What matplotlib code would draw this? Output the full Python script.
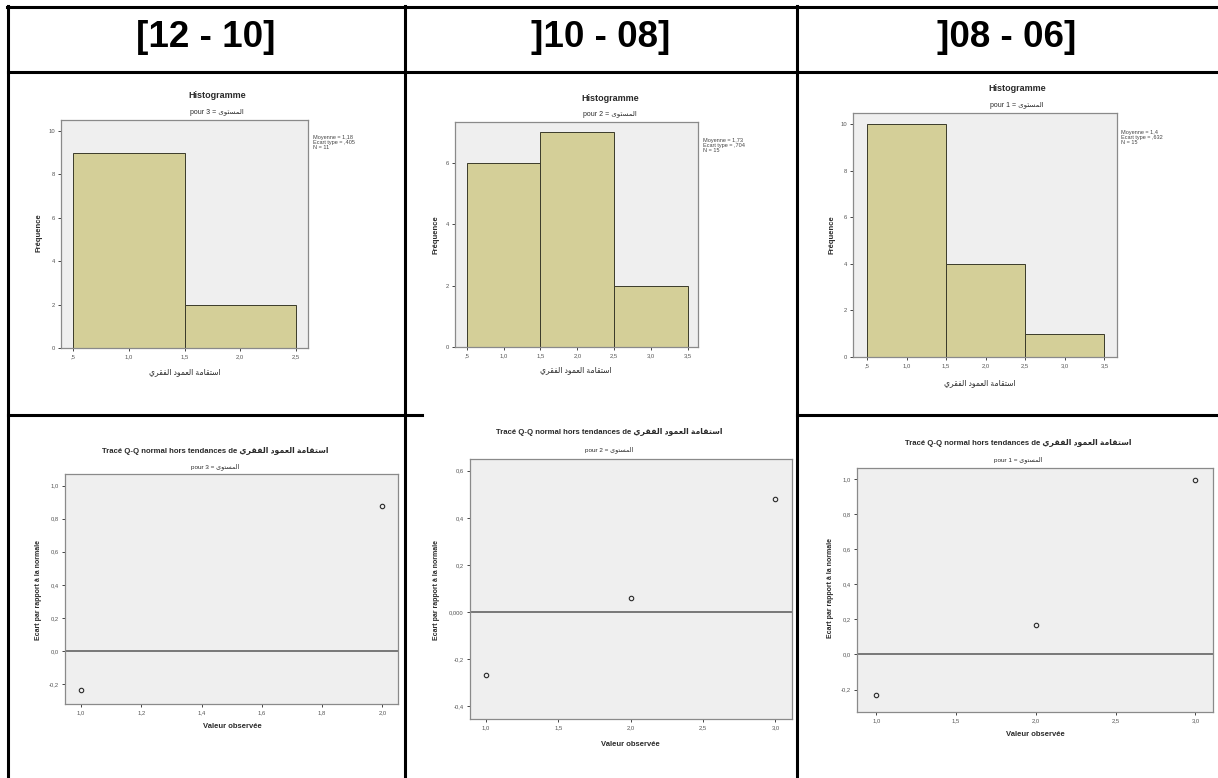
import matplotlib
matplotlib.use("Agg")
import matplotlib.pyplot as plt
from matplotlib.lines import Line2D

# ---------------- data ----------------
headers = ["[12 - 10]", "]10 - 08]", "]08 - 06]"]
group_values = [3, 2, 1]

hist1_values = [1, 2]
hist1_counts = [9, 2]
hist2_values = [1, 2, 3]
hist2_counts = [6, 7, 2]
hist3_values = [1, 2, 3]
hist3_counts = [10, 4, 1]

hist_means = ["1,18", "1,73", "1,4"]
hist_sds = [",405", ",704", ",632"]
hist_ns = ["11", "15", "15"]

hist1_xticks = [0.5, 1.0, 1.5, 2.0, 2.5]
hist1_xticklabels = [",5", "1,0", "1,5", "2,0", "2,5"]
hist23_xticks = [0.5, 1.0, 1.5, 2.0, 2.5, 3.0, 3.5]
hist23_xticklabels = [",5", "1,0", "1,5", "2,0", "2,5", "3,0", "3,5"]
hist1_yticks = [0, 2, 4, 6, 8, 10]
hist2_yticks = [0, 2, 4, 6]
hist3_yticks = [0, 2, 4, 6, 8, 10]

qq1_x = [1.0, 2.0]
qq1_y = [-0.236, 0.877]
qq2_x = [1.0, 2.0, 3.0]
qq2_y = [-0.266, 0.059, 0.482]
qq3_x = [1.0, 2.0, 3.0]
qq3_y = [-0.232, 0.168, 0.996]

qq1_xticks = [1.0, 1.2, 1.4, 1.6, 1.8, 2.0]
qq1_xticklabels = ["1,0", "1,2", "1,4", "1,6", "1,8", "2,0"]
qq23_xticks = [1.0, 1.5, 2.0, 2.5, 3.0]
qq23_xticklabels = ["1,0", "1,5", "2,0", "2,5", "3,0"]
qq1_yticks = [-0.2, 0.0, 0.2, 0.4, 0.6, 0.8, 1.0]
qq1_yticklabels = ["-0,2", "0,0", "0,2", "0,4", "0,6", "0,8", "1,0"]
qq2_yticks = [-0.4, -0.2, 0.0, 0.2, 0.4, 0.6]
qq2_yticklabels = ["-0,4", "-0,2", "0,000", "0,2", "0,4", "0,6"]
qq3_yticks = [-0.2, 0.0, 0.2, 0.4, 0.6, 0.8, 1.0]
qq3_yticklabels = ["-0,2", "0,0", "0,2", "0,4", "0,6", "0,8", "1,0"]

var_name_ar = "استقامة العمود الفقري"
group_name_ar = "المستوى"

# ---------------- arabic shaping (presentation forms) ----------------
FORMS = {
    "ا": ("\uFE8D", "\uFE8E", None, None),
    "ة": ("\uFE93", "\uFE94", None, None),
    "ت": ("\uFE95", "\uFE96", "\uFE97", "\uFE98"),
    "ج": ("\uFE9D", "\uFE9E", "\uFE9F", "\uFEA0"),
    "د": ("\uFEA9", "\uFEAA", None, None),
    "ر": ("\uFEAD", "\uFEAE", None, None),
    "س": ("\uFEB1", "\uFEB2", "\uFEB3", "\uFEB4"),
    "ع": ("\uFEC9", "\uFECA", "\uFECB", "\uFECC"),
    "ف": ("\uFED1", "\uFED2", "\uFED3", "\uFED4"),
    "ق": ("\uFED5", "\uFED6", "\uFED7", "\uFED8"),
    "ك": ("\uFED9", "\uFEDA", "\uFEDB", "\uFEDC"),
    "ل": ("\uFEDD", "\uFEDE", "\uFEDF", "\uFEE0"),
    "م": ("\uFEE1", "\uFEE2", "\uFEE3", "\uFEE4"),
    "و": ("\uFEED", "\uFEEE", None, None),
    "ى": ("\uFEEF", "\uFEF0", None, None),
    "ي": ("\uFEF1", "\uFEF2", "\uFEF3", "\uFEF4"),
}


def shape_ar(text):
    chars = list(text)
    out = []
    for i, c in enumerate(chars):
        if c not in FORMS:
            out.append(c)
            continue
        prev = chars[i - 1] if i > 0 else None
        nxt = chars[i + 1] if i + 1 < len(chars) else None
        iso, fin, ini, med = FORMS[c]
        jp = prev in FORMS and FORMS[prev][2] is not None
        jn = nxt in FORMS and ini is not None
        if jp and jn:
            out.append(med)
        elif jp:
            out.append(fin)
        elif jn:
            out.append(ini)
        else:
            out.append(iso)
    return "".join(reversed(out))


AR_VAR = shape_ar(var_name_ar)
AR_GRP = shape_ar(group_name_ar)

# ---------------- figure ----------------
W, H = 1218, 778
fig = plt.figure(figsize=(W / 100, H / 100), dpi=100)
fig.patch.set_facecolor("white")

FAM = ["Liberation Sans", "DejaVu Sans"]
TXT = "#2a2a2a"
BG = "#efefef"
SPINE = "#8a8a8a"
BAR = "#d4cf98"


def px_axes(x0, y0, x1, y1):
    return fig.add_axes([x0 / W, 1 - y1 / H, (x1 - x0) / W, (y1 - y0) / H])


def style(ax):
    ax.set_facecolor(BG)
    for s in ax.spines.values():
        s.set_color(SPINE)
        s.set_linewidth(0.9)
    ax.tick_params(axis="both", length=2.5, width=0.7, color="#444444",
                   labelsize=4.2, labelcolor="#555555", pad=2)
    for lab in ax.get_xticklabels() + ax.get_yticklabels():
        lab.set_family(FAM)


# overlay for table + free text
ov = fig.add_axes([0, 0, 1, 1], zorder=10)
ov.set_xlim(0, W)
ov.set_ylim(H, 0)
ov.axis("off")
ov.patch.set_alpha(0)

# ---------------- histograms ----------------
hists = [
    (hist1_values, hist1_counts, (61, 120, 308, 348), (0.389, 2.611), 10.5,
     hist1_xticks, hist1_xticklabels, hist1_yticks),
    (hist2_values, hist2_counts, (455, 122, 698, 347), (0.342, 3.635), 7.33,
     hist23_xticks, hist23_xticklabels, hist2_yticks),
    (hist3_values, hist3_counts, (853, 113, 1117, 357), (0.323, 3.66), 10.49,
     hist23_xticks, hist23_xticklabels, hist3_yticks),
]
hist_title_pos = [(217, 95, 112), (610, 98, 114), (1017, 88, 105)]
hist_ylab_pos = [(39, 233), (436, 235), (832, 235)]
hist_xlab_pos = [(185, 372), (576, 370), (980, 383)]
hist_leg_pos = [(313, 135), (703, 138), (1121, 130)]

for i, (vals, cnts, box, xl, ytop, xt, xtl, yt) in enumerate(hists):
    ax = px_axes(*box)
    ax.bar(vals, cnts, width=1.0, color=BAR, edgecolor="#3a3a2a", linewidth=0.7, zorder=2)
    ax.set_xlim(*xl)
    ax.set_ylim(0, ytop)
    ax.set_xticks(xt)
    ax.set_xticklabels(xtl)
    ax.set_yticks(yt)
    ax.set_yticklabels([str(v) for v in yt])
    style(ax)
    tx, ty, sy = hist_title_pos[i]
    ov.text(tx, ty, "Histogramme", ha="center", va="center", fontsize=6.5,
            fontweight="bold", color=TXT, family=FAM)
    ov.text(tx, sy, "pour %d = %s" % (group_values[i], AR_GRP), ha="center",
            va="center", fontsize=5, color=TXT, family=FAM)
    yx, yy = hist_ylab_pos[i]
    ov.text(yx, yy, "Fréquence", rotation=90, ha="center", va="center",
            fontsize=5.5, fontweight="bold", color=TXT, family=FAM)
    xx, xy = hist_xlab_pos[i]
    ov.text(xx, xy, AR_VAR, ha="center", va="center", fontsize=5.5,
            color=TXT, family=FAM)
    lx, ly = hist_leg_pos[i]
    ov.text(lx, ly, "Moyenne = %s\nEcart type = %s\nN = %s"
            % (hist_means[i], hist_sds[i], hist_ns[i]),
            ha="left", va="top", fontsize=4, linespacing=1.05,
            color="#444444", family=FAM)

# ---------------- detrended Q-Q plots ----------------
qqs = [
    (qq1_x, qq1_y, (65, 474, 398, 704), (0.947, 2.052), (-0.32, 1.07),
     qq1_xticks, qq1_xticklabels, qq1_yticks, qq1_yticklabels),
    (qq2_x, qq2_y, (470, 459, 792, 719), (0.889, 3.115), (-0.454, 0.65),
     qq23_xticks, qq23_xticklabels, qq2_yticks, qq2_yticklabels),
    (qq3_x, qq3_y, (857, 468, 1213, 712), (0.879, 3.11), (-0.328, 1.063),
     qq23_xticks, qq23_xticklabels, qq3_yticks, qq3_yticklabels),
]
qq_title_pos = [(215, 451, 467), (609, 432, 450), (1018, 443, 460)]
qq_ylab_pos = [(39, 590), (436, 590), (831, 588)]
qq_xlab_pos = [(232, 727), (630, 745), (1035, 734)]

for i, (xs, ys, box, xl, yl, xt, xtl, yt, ytl) in enumerate(qqs):
    ax = px_axes(*box)
    ax.axhline(0.0, color="#6e6e6e", linewidth=1.3, zorder=2)
    ax.plot(xs, ys, linestyle="none", marker="o", markersize=3.2,
            markerfacecolor="none", markeredgecolor="#2a2a2a",
            markeredgewidth=0.8, zorder=3)
    ax.set_xlim(*xl)
    ax.set_ylim(*yl)
    ax.set_xticks(xt)
    ax.set_xticklabels(xtl)
    ax.set_yticks(yt)
    ax.set_yticklabels(ytl)
    style(ax)
    tx, ty, sy = qq_title_pos[i]
    ov.text(tx, ty, "Tracé Q-Q normal hors tendances de " + AR_VAR, ha="center",
            va="center", fontsize=5.6, fontweight="bold", color=TXT, family=FAM)
    ov.text(tx, sy, "pour %d = %s" % (group_values[i], AR_GRP), ha="center",
            va="center", fontsize=4.6, color=TXT, family=FAM)
    yx, yy = qq_ylab_pos[i]
    ov.text(yx, yy, "Ecart par rapport à la normale", rotation=90, ha="center",
            va="center", fontsize=5, fontweight="bold", color=TXT, family=FAM)
    xx, xy = qq_xlab_pos[i]
    ov.text(xx, xy, "Valeur observée", ha="center", va="center", fontsize=5.5,
            fontweight="bold", color=TXT, family=FAM)

# ---------------- table ----------------
LW = 2.2
table_lines = [
    ((7, 1218), (7, 7)),
    ((8, 1218), (72, 72)),
    ((8, 422), (415, 415)),
    ((797, 1218), (415, 415)),
    ((8, 8), (6, 778)),
    ((405, 405), (6, 778)),
    ((797, 797), (6, 778)),
]
for xs_, ys_ in table_lines:
    ov.add_line(Line2D(xs_, ys_, color="black", linewidth=LW,
                       solid_capstyle="projecting"))

col_centers = [206, 601, 1007]
for cx, hd in zip(col_centers, headers):
    ov.text(cx, 47, hd, ha="center", va="baseline", fontsize=26.5,
            fontweight="bold", color="black", family=["Liberation Sans", "DejaVu Sans"])

fig.savefig("out.png", dpi=100, facecolor="white")
